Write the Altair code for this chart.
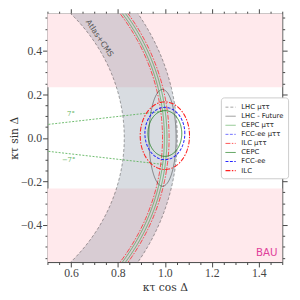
import altair as alt
import numpy as np
import pandas as pd

# ---------------- values ----------------
series = ["LHC μττ", "LHC - Future", "CEPC μττ", "FCC-ee μττ", "ILC μττ", "CEPC", "FCC-ee", "ILC"]
series_colors = ["#000000", "#111111", "#229022", "#1f1fff", "#ff1a1a", "#1b7d1b", "#1414ff", "#ff2020"]
series_dash = [[3, 2], [1, 0], [1, 0], [3, 1.5], [5, 1.5, 1.5, 1.5], [1, 0], [3, 1.5], [5, 1.5, 1.5, 1.5]]
series_width = [0.8, 1.1, 1.4, 1.5, 1.4, 1.6, 2.0, 1.5]
series_opacity = [0.45, 1, 1, 1, 1, 1, 1, 1]

# rings (circles around origin): series, radius
ring_series = ["ILC μττ", "ILC μττ", "CEPC μττ", "CEPC μττ", "LHC μττ", "LHC μττ"]
ring_radius = [0.990, 1.018, 0.998, 1.009, 0.827, 1.053]

# ellipses: series, centre, semi-axes
ell_series = ["LHC - Future", "ILC", "FCC-ee", "CEPC"]
ell_cx = [0.99, 1.0, 1.0, 1.0]
ell_cy = [0.0, 0.01, 0.02, 0.02]
ell_a = [0.058, 0.105, 0.085, 0.072]
ell_b = [0.222, 0.155, 0.12, 0.105]

band_r = [0.827, 1.053]          # Atlas+CMS band
bau_limit = 0.232                # |kappa sin Delta| above this is shaded
cp_angles = [7, -7]              # degrees
cp_labels = ["7°", "−7°"]
cp_label_x = [0.60, 0.59]
cp_label_y = [0.108, -0.100]

x_dom = [0.5, 1.5]
y_dom = [-0.57, 0.57]
x_ticks = [round(0.5 + 0.05 * i, 2) for i in range(21)]
y_ticks = [round(-0.55 + 0.05 * i, 2) for i in range(23)]

# ---------------- build tables ----------------
rows = []
cid = 0
for s, r in zip(ring_series, ring_radius):
    for i, t in enumerate(np.linspace(-np.pi / 2.5, np.pi / 2.5, 240)):
        rows.append(dict(series=s, curve=cid, idx=i, x=r * np.cos(t), y=r * np.sin(t)))
    cid += 1
for s, cx, cy, a, b in zip(ell_series, ell_cx, ell_cy, ell_a, ell_b):
    for i, t in enumerate(np.linspace(0, 2 * np.pi, 200)):
        rows.append(dict(series=s, curve=cid, idx=i, x=cx + a * np.cos(t), y=cy + b * np.sin(t)))
    cid += 1
curves = pd.DataFrame(rows)

yy = np.linspace(-0.6, 0.6, 241)
band = pd.DataFrame(dict(y=yy,
                         x1=np.sqrt(np.clip(band_r[0] ** 2 - yy ** 2, 0, None)),
                         x2=np.sqrt(np.clip(band_r[1] ** 2 - yy ** 2, 0, None))))

bau = pd.DataFrame(dict(y1=[bau_limit, -0.7], y2=[0.7, -bau_limit], x1=[0.4, 0.4], x2=[1.6, 1.6]))

cp_rows = []
for k, ang in enumerate(cp_angles):
    th = np.deg2rad(ang)
    for i, r in enumerate([0.45, 1.0]):
        cp_rows.append(dict(line=k, idx=i, x=r * np.cos(th), y=r * np.sin(th)))
cp = pd.DataFrame(cp_rows)
cp_text = pd.DataFrame(dict(x=cp_label_x, y=cp_label_y, t=cp_labels))

xs = alt.Scale(domain=x_dom, nice=False, zero=False)
ys = alt.Scale(domain=y_dom, nice=False, zero=False)

major = "abs(round(datum.value*20)) % 4 == 0"
lab = major + " ? format(datum.value, '.1f') : ''"
tsize = {"condition": {"test": major, "value": 5}, "value": 2.5}
common = dict(values=x_ticks, tickSize=tsize, tickColor="#444", domainColor="#444", grid=False,
              labelFont="Liberation Serif", labelFontSize=12, labelColor="#444",
              titleFont="DejaVu Serif", titleFontSize=11, titleFontWeight="normal", titleColor="#333")
ax_bottom = alt.Axis(orient="bottom", labelExpr=lab, title="κτ cos Δ", labelPadding=1, titlePadding=3, **common)
ax_top = alt.Axis(orient="top", labels=False, title=None, **common)
commony = dict(common)
commony["values"] = y_ticks
ax_left = alt.Axis(orient="left", labelExpr=lab, title="κτ sin Δ", labelPadding=1, titlePadding=1, **commony)
ax_right = alt.Axis(orient="right", labels=False, title=None, **commony)

bau_layer = alt.Chart(bau).mark_rect(color="#ffe9ec", clip=True).encode(
    x=alt.X("x1:Q", scale=xs, axis=ax_bottom), x2="x2:Q",
    y=alt.Y("y1:Q", scale=ys, axis=ax_left), y2="y2:Q")

band_layer = alt.Chart(band).mark_area(orient="horizontal", color="#6e7f90", opacity=0.27, clip=True).encode(
    y=alt.Y("y:Q", scale=ys, axis=ax_right),
    x=alt.X("x1:Q", scale=xs, axis=ax_top), x2="x2:Q")

cp_layer = alt.Chart(cp).mark_line(color="#5db35d", strokeDash=[2, 1.5], strokeWidth=0.9, clip=True).encode(
    x=alt.X("x:Q", scale=xs, axis=None), y=alt.Y("y:Q", scale=ys, axis=None),
    detail="line:N", order="idx:Q")

cp_text_layer = alt.Chart(cp_text).mark_text(color="#5db35d", font="DejaVu Serif", fontSize=7).encode(
    x=alt.X("x:Q", scale=xs, axis=None), y=alt.Y("y:Q", scale=ys, axis=None), text="t:N")

leg = dict(title=None, orient="none", legendX=178, legendY=86, fillColor="white", strokeColor="#cccccc",
           padding=4, cornerRadius=3, labelFont="DejaVu Sans", labelFontSize=7, labelColor="#222",
           symbolType="stroke", symbolSize=110, symbolStrokeWidth=1.8, rowPadding=0.3, labelOffset=5,
           symbolOpacity=1)

lines_layer = alt.Chart(curves).mark_line(clip=True).encode(
    x=alt.X("x:Q", scale=xs, axis=None), y=alt.Y("y:Q", scale=ys, axis=None),
    color=alt.Color("series:N", scale=alt.Scale(domain=series, range=series_colors), legend=alt.Legend(**leg)),
    strokeDash=alt.StrokeDash("series:N", scale=alt.Scale(domain=series, range=series_dash), legend=alt.Legend(**leg)),
    strokeWidth=alt.StrokeWidth("series:N", scale=alt.Scale(domain=series, range=series_width), legend=None),
    opacity=alt.Opacity("series:N", scale=alt.Scale(domain=series, range=series_opacity), legend=None),
    detail="curve:N", order="idx:Q")

notes = pd.DataFrame(dict(x=[0.72], y=[0.456], t=["Atlas+CMS"]))
note_layer = alt.Chart(notes).mark_text(color="#555", font="DejaVu Sans", fontSize=8, angle=56).encode(
    x=alt.X("x:Q", scale=xs, axis=None), y=alt.Y("y:Q", scale=ys, axis=None), text="t:N")

bau_txt = pd.DataFrame(dict(x=[1.48], y=[-0.55], t=["BAU"]))
bau_txt_layer = alt.Chart(bau_txt).mark_text(color="#e0409a", font="DejaVu Sans", fontSize=10.5,
                                             align="right", baseline="bottom").encode(
    x=alt.X("x:Q", scale=xs, axis=None), y=alt.Y("y:Q", scale=ys, axis=None), text="t:N")

chart = alt.layer(bau_layer, band_layer, cp_layer, cp_text_layer, lines_layer, note_layer, bau_txt_layer).resolve_axis(
    x="independent", y="independent").properties(
    width=241, height=255,
    autosize=alt.AutoSizeParams(type="none"),
    padding={"left": 40.5, "top": 2, "right": 10, "bottom": 30},
).configure_view(stroke=None)

chart.save("out.html", embed_options={"renderer": "svg", "actions": False})
